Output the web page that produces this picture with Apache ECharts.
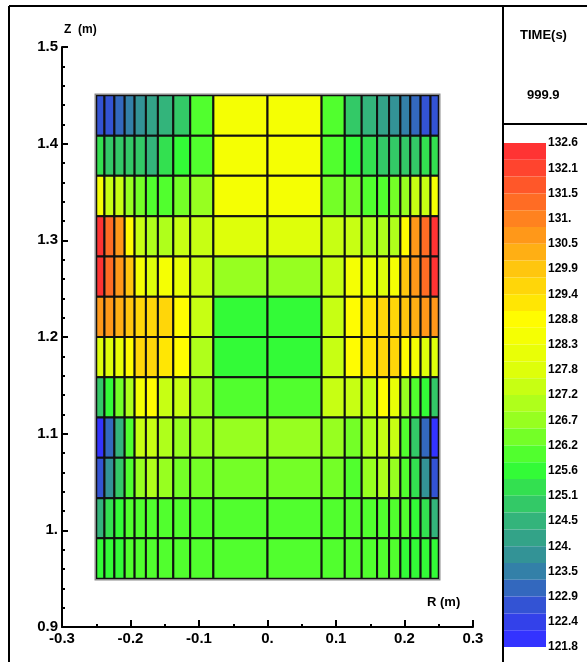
<!DOCTYPE html>
<html><head><meta charset="utf-8">
<script src="https://cdn.jsdelivr.net/npm/echarts@6/dist/echarts.min.js"></script>
<style>html,body{margin:0;padding:0;background:#fff}#c{width:587px;height:662px}</style>
</head><body><div id="c"></div>
<script>
// Column edges in R (m), left to right
const rEdges = [-0.25, -0.238, -0.2235, -0.2085, -0.194, -0.1775, -0.16, -0.1375, -0.1128, -0.079, 0,
                0.079, 0.1128, 0.1375, 0.16, 0.1775, 0.194, 0.2085, 0.2235, 0.238, 0.25];
// Row edges in Z (m), top to bottom
const zEdges = [1.45, 1.4083, 1.3667, 1.325, 1.2833, 1.2417, 1.2, 1.1583, 1.1167, 1.075, 1.0333, 0.9917, 0.95];
// Cell values, rows top to bottom, columns left to right
const temps = [
  [122.6,122.7,123.2,123.4,123.8,124.1,124.4,124.8,125.8,128.4, 128.4,125.8,124.8,124.4,124.1,123.8,123.4,123.2,122.7,122.6],
  [125.1,124.9,124.8,124.8,124.8,124.4,125.1,125.4,125.8,128.4, 128.4,125.8,125.4,125.1,124.8,124.7,124.8,124.9,125.1,125.1],
  [128.3,127.5,127.2,126.7,126.2,125.8,126.0,126.2,126.5,128.4, 128.4,126.4,126.2,126.0,125.8,126.2,126.7,127.2,127.5,128.3],
  [132.6,131.5,130.5,128.8,127.5,126.9,127.0,127.5,127.2,127.8, 127.8,127.2,127.5,127.0,126.9,127.0,128.8,130.5,131.5,132.6],
  [132.3,131.5,130.5,129.9,128.3,127.8,128.3,128.2,127.5,126.8, 126.8,127.5,128.3,128.2,127.8,128.3,129.9,130.5,131.5,132.3],
  [130.7,130.5,130.2,129.9,129.4,129.4,129.4,128.8,127.5,125.6, 125.6,127.5,128.8,129.3,129.4,129.4,129.9,130.2,130.5,130.7],
  [127.8,127.8,128.0,128.8,129.4,129.4,129.3,128.8,126.9,125.4, 125.4,127.2,128.8,129.2,129.4,129.4,128.8,128.3,127.8,127.8],
  [124.8,125.4,126.2,126.9,128.3,128.8,127.5,127.2,126.7,126.1, 126.1,127.2,127.5,127.5,128.8,128.0,126.7,126.0,125.4,124.8],
  [121.8,123.2,124.4,126.0,127.2,127.5,126.9,126.5,126.5,126.5, 126.5,126.5,126.4,126.9,127.5,127.2,125.8,124.8,123.2,121.8],
  [122.6,123.8,124.8,125.8,126.5,126.9,126.5,126.2,126.2,126.2, 126.2,126.2,126.0,126.5,126.9,126.5,125.8,125.1,123.8,122.6],
  [124.4,125.1,125.4,125.8,126.0,126.0,126.0,126.0,126.0,126.0, 126.0,126.0,126.0,126.0,126.0,126.0,125.8,125.4,125.1,124.4],
  [125.4,125.6,125.7,125.8,125.8,125.8,125.8,125.8,125.8,125.8, 125.8,125.8,125.8,125.8,125.8,125.8,125.7,125.6,125.6,125.4]
];
const xTickLabels = ['-0.3','-0.2','-0.1','0.','0.1','0.2','0.3'];
const yTickLabels = ['0.9','1.','1.1','1.2','1.3','1.4','1.5'];
// colour bar labels, bottom to top
const cbLabels = ['121.8','122.4','122.9','123.5','124.','124.5','125.1','125.6','126.2','126.7','127.2',
                  '127.8','128.3','128.8','129.4','129.9','130.5','131.','131.5','132.1','132.6'];
const timeTitle = 'TIME(s)';
const timeValue = '999.9';
const palette = ['#3333ff','#3348e0','#3366c0','#3388a0','#33a08a','#33b878','#33d858','#33ff33',
                 '#66ff2a','#99ff20','#bbff18','#ddff0a','#eeff05','#ffff00','#ffe005','#ffcc0d',
                 '#ffaa15','#ff8a1d','#ff6a25','#ff4c2c','#ff3333'];

const cells = [];
temps.forEach((row, j) => row.forEach((v, i) => cells.push([i, j, v])));

const FONT = 'Liberation Sans';
const chart = echarts.init(document.getElementById('c'), null, {renderer: 'canvas'});
const lineStyle = {stroke: '#000', lineWidth: 2};
chart.setOption({
  animation: false,
  backgroundColor: '#fff',
  grid: [
    {left: 62, right: 114, top: 47, bottom: 35},
    {left: 547, top: 143, width: 1, height: 504}
  ],
  xAxis: [
    {type: 'value', gridIndex: 0, min: -0.3, max: 0.3, interval: 0.1,
     axisLine: {onZero: false, lineStyle: {color: '#000', width: 2}},
     axisTick: {inside: true, length: 7, lineStyle: {color: '#000', width: 2}},
     minorTick: {show: true, splitNumber: 2, length: 3, lineStyle: {color: '#000', width: 2}},
     splitLine: {show: false},
     axisLabel: {margin: 4, color: '#000', fontFamily: FONT, fontSize: 15, fontWeight: 'bold',
       formatter: v => xTickLabels[Math.round((v + 0.3) * 10)]}},
    {type: 'value', gridIndex: 1, show: false, min: 0, max: 1}
  ],
  yAxis: [
    {type: 'value', gridIndex: 0, min: 0.9, max: 1.5, interval: 0.1,
     axisLine: {onZero: false, lineStyle: {color: '#000', width: 2}},
     axisTick: {inside: true, length: 6, lineStyle: {color: '#000', width: 2}},
     minorTick: {show: true, splitNumber: 5, length: 3, lineStyle: {color: '#000', width: 2}},
     splitLine: {show: false},
     axisLabel: {margin: 4, color: '#000', fontFamily: FONT, fontSize: 15, fontWeight: 'bold',
       formatter: v => yTickLabels[Math.round((v - 0.9) * 10)]}},
    {type: 'value', gridIndex: 1, position: 'right', min: 0, max: 20, interval: 1,
     axisLine: {show: false}, axisTick: {show: false}, splitLine: {show: false},
     axisLabel: {margin: 0, color: '#000', fontFamily: FONT, fontSize: 12, fontWeight: 'bold',
       formatter: v => cbLabels[Math.round(v)]}}
  ],
  visualMap: {
    type: 'piecewise', min: 121.8, max: 132.6, splitNumber: 30, dimension: 2, seriesIndex: 0,
    orient: 'vertical', left: 504, top: 143, itemWidth: 42, itemHeight: 504 / 30, itemGap: 0,
    showLabel: false, padding: 0, selectedMode: false, itemSymbol: 'rect',
    inRange: {color: palette}
  },
  series: [{
    type: 'custom', xAxisIndex: 0, yAxisIndex: 0, data: cells,
    encode: {x: 0, y: 1},
    renderItem: function (params, api) {
      const i = api.value(0), j = api.value(1);
      const p0 = api.coord([rEdges[i], zEdges[j]]);
      const p1 = api.coord([rEdges[i + 1], zEdges[j + 1]]);
      return {type: 'rect',
        shape: {x: p0[0], y: p0[1], width: p1[0] - p0[0], height: p1[1] - p0[1]},
        style: {fill: api.visual('color'), stroke: '#111', lineWidth: 2}};
    }
  }, {
    type: 'custom', xAxisIndex: 0, yAxisIndex: 0, data: [[0, 0]],
    encode: {x: 0, y: 1}, silent: true, z: 3,
    renderItem: function (params, api) {
      const p0 = api.coord([rEdges[0], zEdges[0]]);
      const p1 = api.coord([rEdges[rEdges.length - 1], zEdges[zEdges.length - 1]]);
      return {type: 'rect',
        shape: {x: p0[0] - 1, y: p0[1] - 1, width: p1[0] - p0[0] + 2, height: p1[1] - p0[1] + 2},
        style: {fill: 'none', stroke: '#8a8a8a', lineWidth: 1.5}};
    }
  }],
  graphic: [
    {type: 'line', shape: {x1: 9, y1: 6, x2: 587, y2: 6}, style: lineStyle, silent: true},
    {type: 'line', shape: {x1: 9, y1: 6, x2: 9, y2: 662}, style: lineStyle, silent: true},
    {type: 'line', shape: {x1: 503, y1: 6, x2: 503, y2: 662}, style: lineStyle, silent: true},
    {type: 'line', shape: {x1: 503, y1: 124, x2: 587, y2: 124}, style: lineStyle, silent: true},
    {type: 'text', left: 64, top: 24, style: {text: 'Z  (m)', font: 'bold 12px ' + FONT, fill: '#000'}},
    {type: 'text', left: 427, top: 596, style: {text: 'R (m)', font: 'bold 13px ' + FONT, fill: '#000'}},
    {type: 'text', left: 520, top: 29, style: {text: timeTitle, font: 'bold 13px ' + FONT, fill: '#000'}},
    {type: 'text', left: 527, top: 89, style: {text: timeValue, font: 'bold 13px ' + FONT, fill: '#000'}}
  ]
});
</script></body></html>
